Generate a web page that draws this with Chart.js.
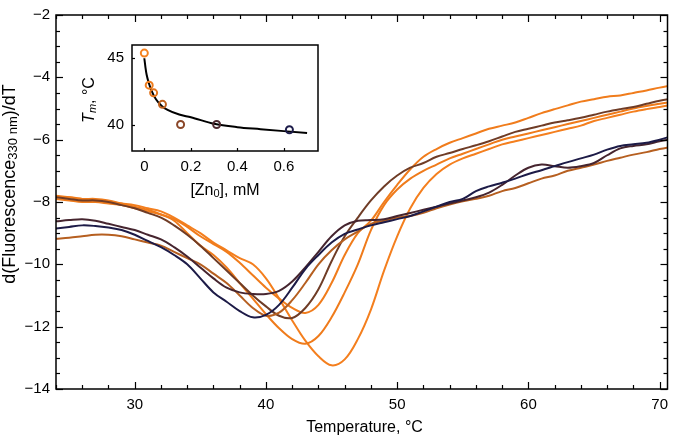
<!DOCTYPE html>
<html>
<head>
<meta charset="utf-8">
<script src="https://cdn.jsdelivr.net/npm/chart.js@4.4.1/dist/chart.umd.min.js"></script>
<style>
  html, body { margin: 0; padding: 0; background: #fff; }
  #wrap { position: relative; width: 675px; height: 437px; }
  #main { position: absolute; left: 0; top: 0; }
  #inset { position: absolute; left: 80px; top: 28px; }
</style>
</head>
<body>
<div id="wrap">
  <canvas id="main" width="675" height="437"></canvas>
  <canvas id="inset" width="250" height="175"></canvas>
</div>
<script>
// main plot: first derivative of fluorescence vs temperature
const temps = [24,25,26,27,28,29,30,31,32,33,34,35,36,37,38,39,40,41,42,43,44,45,46,47,
               48,49,50,51,52,53,54,55,56,57,58,59,60,61,62,63,64,65,66,67,68,69,70,71];

const curveA = [-7.85,-7.85,-7.9,-7.95,-8.0,-8.05,-8.1,-8.2,-8.3,-8.5,-8.75,-9.0,-9.3,-9.55,-9.8,-10.0,
                -10.45,-11.1,-11.8,-12.45,-12.95,-13.24,-13.05,-12.4,-11.45,-10.2,-9.1,-8.2,-7.55,-7.1,-6.8,-6.6,
                -6.45,-6.3,-6.15,-6.05,-5.95,-5.85,-5.75,-5.65,-5.55,-5.4,-5.3,-5.2,-5.1,-5.02,-4.95,-4.88];
const curveB = [-7.8,-7.85,-7.9,-7.9,-7.95,-8.05,-8.15,-8.25,-8.4,-8.6,-9.0,-9.4,-9.7,-10.1,-10.6,-11.1,
                -11.6,-12.05,-12.4,-12.55,-12.3,-11.7,-10.9,-10.0,-8.9,-8.1,-7.6,-7.25,-7.0,-6.8,-6.6,-6.45,
                -6.3,-6.15,-6.0,-5.9,-5.8,-5.7,-5.6,-5.5,-5.4,-5.3,-5.2,-5.1,-5.0,-4.92,-4.85,-4.78];
const curveC = [-7.9,-7.95,-8.0,-8.0,-8.05,-8.1,-8.2,-8.3,-8.4,-8.55,-8.8,-9.1,-9.35,-9.6,-9.95,-10.35,
                -10.75,-11.1,-11.4,-11.56,-11.3,-10.6,-9.7,-9.0,-8.6,-8.0,-7.45,-6.95,-6.55,-6.3,-6.1,-5.95,
                -5.8,-5.65,-5.55,-5.45,-5.3,-5.15,-5.02,-4.9,-4.78,-4.7,-4.62,-4.58,-4.5,-4.42,-4.33,-4.25];
const curveD = [-7.85,-7.9,-7.95,-7.95,-8.0,-8.1,-8.2,-8.35,-8.5,-8.75,-9.05,-9.4,-9.8,-10.2,-10.6,-11.0,
                -11.35,-11.65,-11.72,-11.4,-10.8,-9.9,-9.1,-8.5,-7.95,-7.5,-7.15,-6.9,-6.75,-6.55,-6.43,-6.3,
                -6.18,-6.05,-5.9,-5.75,-5.65,-5.55,-5.45,-5.38,-5.3,-5.2,-5.1,-5.02,-4.95,-4.85,-4.75,-4.68];
const curveE = [-9.18,-9.15,-9.1,-9.05,-9.05,-9.1,-9.2,-9.3,-9.4,-9.6,-9.8,-10.0,-10.3,-10.6,-11.0,-11.4,
                -11.65,-11.55,-11.15,-10.6,-10.0,-9.55,-9.2,-8.95,-8.7,-8.6,-8.5,-8.45,-8.35,-8.2,-8.08,-7.98,
                -7.9,-7.8,-7.65,-7.55,-7.4,-7.25,-7.15,-7.0,-6.9,-6.8,-6.68,-6.58,-6.48,-6.4,-6.3,-6.22];
const curveF = [-8.62,-8.58,-8.55,-8.6,-8.7,-8.8,-8.9,-9.05,-9.2,-9.45,-9.75,-10.1,-10.45,-10.75,-10.9,-10.95,
                -10.95,-10.85,-10.55,-10.1,-9.6,-9.1,-8.75,-8.6,-8.58,-8.55,-8.45,-8.35,-8.25,-8.15,-8.05,-7.95,
                -7.85,-7.7,-7.45,-7.15,-6.9,-6.8,-6.85,-6.9,-6.85,-6.75,-6.5,-6.28,-6.2,-6.15,-6.05,-5.98];
const curveG = [-8.85,-8.8,-8.75,-8.77,-8.82,-8.9,-9.05,-9.25,-9.45,-9.7,-10.0,-10.45,-10.9,-11.2,-11.5,-11.7,
                -11.62,-11.3,-10.75,-10.15,-9.7,-9.3,-9.02,-8.88,-8.75,-8.65,-8.55,-8.45,-8.3,-8.15,-8.0,-7.9,
                -7.65,-7.5,-7.38,-7.25,-7.1,-6.98,-6.85,-6.72,-6.6,-6.48,-6.32,-6.2,-6.15,-6.1,-6.0,-5.88];

const curves = [curveG, curveF, curveE, curveD, curveC, curveB, curveA];
const curveColors = ['#1d1b47', '#46252f', '#b65f20', '#6f3c26', '#f07c1c', '#ef7b1b', '#f47f1e'];

const xTicks = [30, 40, 50, 60, 70];
const yTicks = [-14, -12, -10, -8, -6, -4, -2];

// inset: melting temperature vs zinc concentration
const znConc = [0, 0.021, 0.040, 0.078, 0.156, 0.311, 0.624];
const tmValues = [45.39, 42.97, 42.39, 41.52, 40.0, 40.0, 39.6];
const pointColors = ['#f5821f', '#ee7c1d', '#e2751f', '#bf621f', '#8a4628', '#4e2a30', '#1d1c4a'];

const fitZn = [0, 0.005, 0.01, 0.02, 0.03, 0.05, 0.075, 0.1, 0.15, 0.2, 0.3, 0.4, 0.5, 0.6, 0.7];
const fitTm = [45.0, 44.3, 43.75, 43.1, 42.6, 41.9, 41.4, 41.1, 40.75, 40.55, 40.05, 39.8, 39.65, 39.5, 39.35];

const insetXTicks = [0, 0.2, 0.4, 0.6];
const insetYTicks = [40, 45];

const FONT = "'Liberation Sans', Arial, sans-serif";
const minus = v => String(v).replace('-', '\u2212');

// frame with inward ticks, like the original figure
const frameTicks = {
  id: 'frameTicks',
  afterDraw(chart, args, o) {
    const { ctx, chartArea: a, scales: { x, y } } = chart;
    ctx.save();
    ctx.strokeStyle = '#000';
    ctx.lineWidth = o.frameWidth;
    ctx.strokeRect(a.left, a.top, a.right - a.left, a.bottom - a.top);
    ctx.lineWidth = 1.2;
    const seg = (x1, y1, x2, y2) => { ctx.beginPath(); ctx.moveTo(x1, y1); ctx.lineTo(x2, y2); ctx.stroke(); };
    const isMajor = (v, step) => Math.abs(v / step - Math.round(v / step)) < 1e-6;
    for (let v = Math.ceil(x.min / o.xMinor) * o.xMinor; v <= x.max + 1e-9; v += o.xMinor) {
      const px = Math.round(x.getPixelForValue(v)) + 0.5;
      const len = isMajor(v, o.xMajor) ? o.major : o.minor;
      if (len <= 0) continue;
      seg(px, a.bottom, px, a.bottom - len);
      if (o.allSides) seg(px, a.top, px, a.top + len);
    }
    for (let v = Math.ceil(y.min / o.yMinor) * o.yMinor; v <= y.max + 1e-9; v += o.yMinor) {
      const py = Math.round(y.getPixelForValue(v)) + 0.5;
      const len = isMajor(v, o.yMajor) ? o.major : o.minor;
      if (len <= 0) continue;
      seg(a.left, py, a.left + len, py);
      if (o.allSides) seg(a.right, py, a.right - len, py);
    }
    ctx.restore();
  }
};

// axis titles with subscripts
function drawRich(ctx, parts, cx, cy, rotate) {
  ctx.save();
  ctx.translate(cx, cy);
  if (rotate) ctx.rotate(-Math.PI / 2);
  ctx.fillStyle = '#000';
  ctx.textBaseline = 'middle';
  let total = 0;
  parts.forEach(p => {
    ctx.font = (p.italic ? 'italic ' : '') + p.size + 'px ' + FONT;
    p.w = ctx.measureText(p.text).width;
    total += p.w;
  });
  let xx = -total / 2;
  parts.forEach(p => {
    ctx.font = (p.italic ? 'italic ' : '') + p.size + 'px ' + FONT;
    ctx.fillText(p.text, xx, p.dy || 0);
    xx += p.w;
  });
  ctx.restore();
}

const axisTitles = {
  id: 'axisTitles',
  afterDraw(chart, args, o) {
    o.items.forEach(it => drawRich(chart.ctx, it.parts, it.x, it.y, it.rotate));
  }
};

const tickFont = { family: FONT, size: 15 };

new Chart(document.getElementById('main'), {
  type: 'line',
  data: {
    datasets: curves.map((c, i) => ({
      data: temps.map((t, j) => ({ x: t, y: c[j] })),
      borderColor: curveColors[i],
      borderWidth: 2,
      pointRadius: 0,
      tension: 0.35,
      fill: false
    }))
  },
  options: {
    responsive: false,
    animation: false,
    devicePixelRatio: 1,
    layout: { padding: { top: 7, right: 2, left: 0, bottom: 0 } },
    plugins: {
      legend: { display: false },
      tooltip: { enabled: false },
      frameTicks: { frameWidth: 1.5, xMinor: 2, xMajor: 10, yMinor: 0.5, yMajor: 2, major: 7, minor: 4, allSides: true },
      axisTitles: {
        items: [
          { x: 364.5, y: 428, parts: [{ text: 'Temperature, °C', size: 16 }] },
          { x: 10, y: 184, rotate: true, parts: [
            { text: 'd(Fluorescence', size: 18 },
            { text: '330 nm', size: 13, dy: 3.5 },
            { text: ')/dT', size: 18 }
          ] }
        ]
      }
    },
    scales: {
      x: {
        type: 'linear', min: 24, max: 70.6,
        grid: { display: false, drawTicks: false },
        border: { display: false },
        afterBuildTicks: s => { s.ticks = xTicks.map(v => ({ value: v })); },
        afterFit: s => { s.height = 48; },
        ticks: { font: tickFont, color: '#000', padding: 7, maxRotation: 0 }
      },
      y: {
        type: 'linear', min: -14, max: -2,
        grid: { display: false, drawTicks: false },
        border: { display: false },
        afterBuildTicks: s => { s.ticks = yTicks.map(v => ({ value: v })); },
        afterFit: s => { s.width = 56; },
        ticks: { font: tickFont, color: '#000', padding: 6, callback: v => minus(v) }
      }
    }
  },
  plugins: [frameTicks, axisTitles]
});

new Chart(document.getElementById('inset'), {
  type: 'scatter',
  data: {
    datasets: [
      {
        data: znConc.map((z, i) => ({ x: z, y: tmValues[i] })),
        pointRadius: 3.5,
        pointBorderWidth: 2,
        pointBorderColor: pointColors,
        pointBackgroundColor: 'rgba(0,0,0,0)',
        showLine: false
      },
      {
        data: fitZn.map((z, i) => ({ x: z, y: fitTm[i] })),
        showLine: true,
        borderColor: '#000',
        borderWidth: 2,
        pointRadius: 0,
        cubicInterpolationMode: 'monotone'
      }
    ]
  },
  options: {
    responsive: false,
    animation: false,
    devicePixelRatio: 1,
    layout: { padding: { top: 7, right: 12, left: 0, bottom: 0 } },
    plugins: {
      legend: { display: false },
      tooltip: { enabled: false },
      frameTicks: { frameWidth: 1.5, xMinor: 0.2, xMajor: 0.2, yMinor: 5, yMajor: 5, major: 3, minor: 3, allSides: false },
      axisTitles: {
        items: [
          { x: 145, y: 163, parts: [
            { text: '[Zn', size: 16 },
            { text: '0', size: 11, dy: 3 },
            { text: '], mM', size: 16 }
          ] },
          { x: 10, y: 72, rotate: true, parts: [
            { text: 'T', size: 16, italic: true },
            { text: 'm', size: 11, italic: true, dy: 3 },
            { text: ', °C', size: 16 }
          ] }
        ]
      }
    },
    scales: {
      x: {
        type: 'linear', min: -0.053, max: 0.747,
        grid: { display: false, drawTicks: false },
        border: { display: false },
        afterBuildTicks: s => { s.ticks = insetXTicks.map(v => ({ value: v })); },
        afterFit: s => { s.height = 52; },
        ticks: { font: tickFont, color: '#000', padding: 7, maxRotation: 0 }
      },
      y: {
        type: 'linear', min: 38, max: 46,
        grid: { display: false, drawTicks: false },
        border: { display: false },
        afterBuildTicks: s => { s.ticks = insetYTicks.map(v => ({ value: v })); },
        afterFit: s => { s.width = 52; },
        ticks: { font: tickFont, color: '#000', padding: 8 }
      }
    }
  },
  plugins: [frameTicks, axisTitles]
});
</script>
</body>
</html>
